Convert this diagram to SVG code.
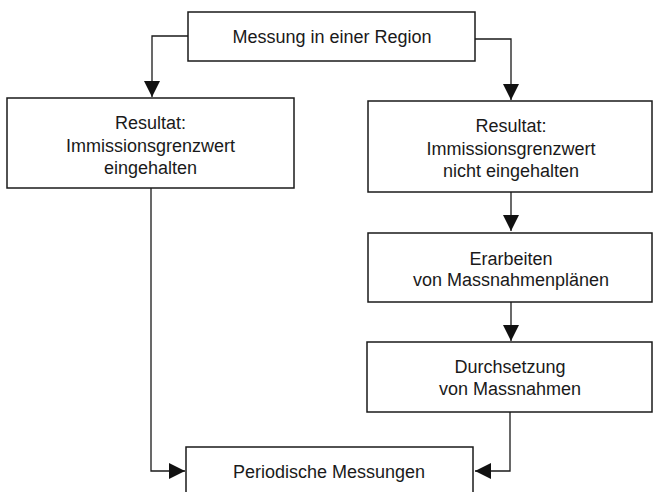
<svg xmlns="http://www.w3.org/2000/svg" width="653" height="492" viewBox="0 0 653 492">
<defs>
<style>
.box{fill:#fff;stroke:#1a1a1a;stroke-width:1.5}
.t{font-family:"Liberation Sans",Arial,sans-serif;font-size:18px;fill:#1a1a1a;text-anchor:middle}
.c{fill:none;stroke:#1a1a1a;stroke-width:1.3}
</style>
<marker id="ah" viewBox="0 0 10 10" refX="10" refY="5" markerWidth="10" markerHeight="10" markerUnits="userSpaceOnUse" orient="auto">
<path d="M0,0 L10,5 L0,10 Z" fill="#111"/>
</marker>
<marker id="ah2" viewBox="0 0 16 16" refX="16" refY="8" markerWidth="16" markerHeight="16" markerUnits="userSpaceOnUse" orient="auto">
<path d="M0,0 L16,8 L0,16 Z" fill="#111"/>
</marker>
</defs>
<rect width="653" height="492" fill="#fff"/>
<g id="connectors">
<path class="c" d="M188,36 H152 V97" marker-end="url(#ah2)"/>
<path class="c" d="M475,39 H511 V100" marker-end="url(#ah2)"/>
<path class="c" d="M511,192 V231" marker-end="url(#ah2)"/>
<path class="c" d="M511,302 V341" marker-end="url(#ah2)"/>
<path class="c" d="M151,188 V471 H185" marker-end="url(#ah2)"/>
<path class="c" d="M510,412 V471 H475" marker-end="url(#ah2)"/>
</g>
<g id="n_messung">
<rect class="box" x="188" y="12" width="287" height="49"/>
<text class="t" x="332" y="43">Messung in einer Region</text>
</g>
<g id="n_eingehalten">
<rect class="box" x="7" y="98" width="287" height="90"/>
<text class="t" x="150.5" y="129">Resultat:</text>
<text class="t" x="150.5" y="152">Immissionsgrenzwert</text>
<text class="t" x="150.5" y="174">eingehalten</text>
</g>
<g id="n_nicht">
<rect class="box" x="368" y="101" width="284" height="91"/>
<text class="t" x="511" y="132">Resultat:</text>
<text class="t" x="511" y="155">Immissionsgrenzwert</text>
<text class="t" x="511" y="177">nicht eingehalten</text>
</g>
<g id="n_erarbeiten">
<rect class="box" x="368" y="233" width="284" height="69"/>
<text class="t" x="511" y="265">Erarbeiten</text>
<text class="t" x="511" y="286">von Massnahmenplänen</text>
</g>
<g id="n_durchsetzung">
<rect class="box" x="367" y="342" width="285" height="70"/>
<text class="t" x="510" y="373">Durchsetzung</text>
<text class="t" x="510" y="395">von Massnahmen</text>
</g>
<g id="n_periodisch">
<rect class="box" x="186" y="447" width="287" height="60"/>
<text class="t" x="329" y="478">Periodische Messungen</text>
</g>
</svg>
